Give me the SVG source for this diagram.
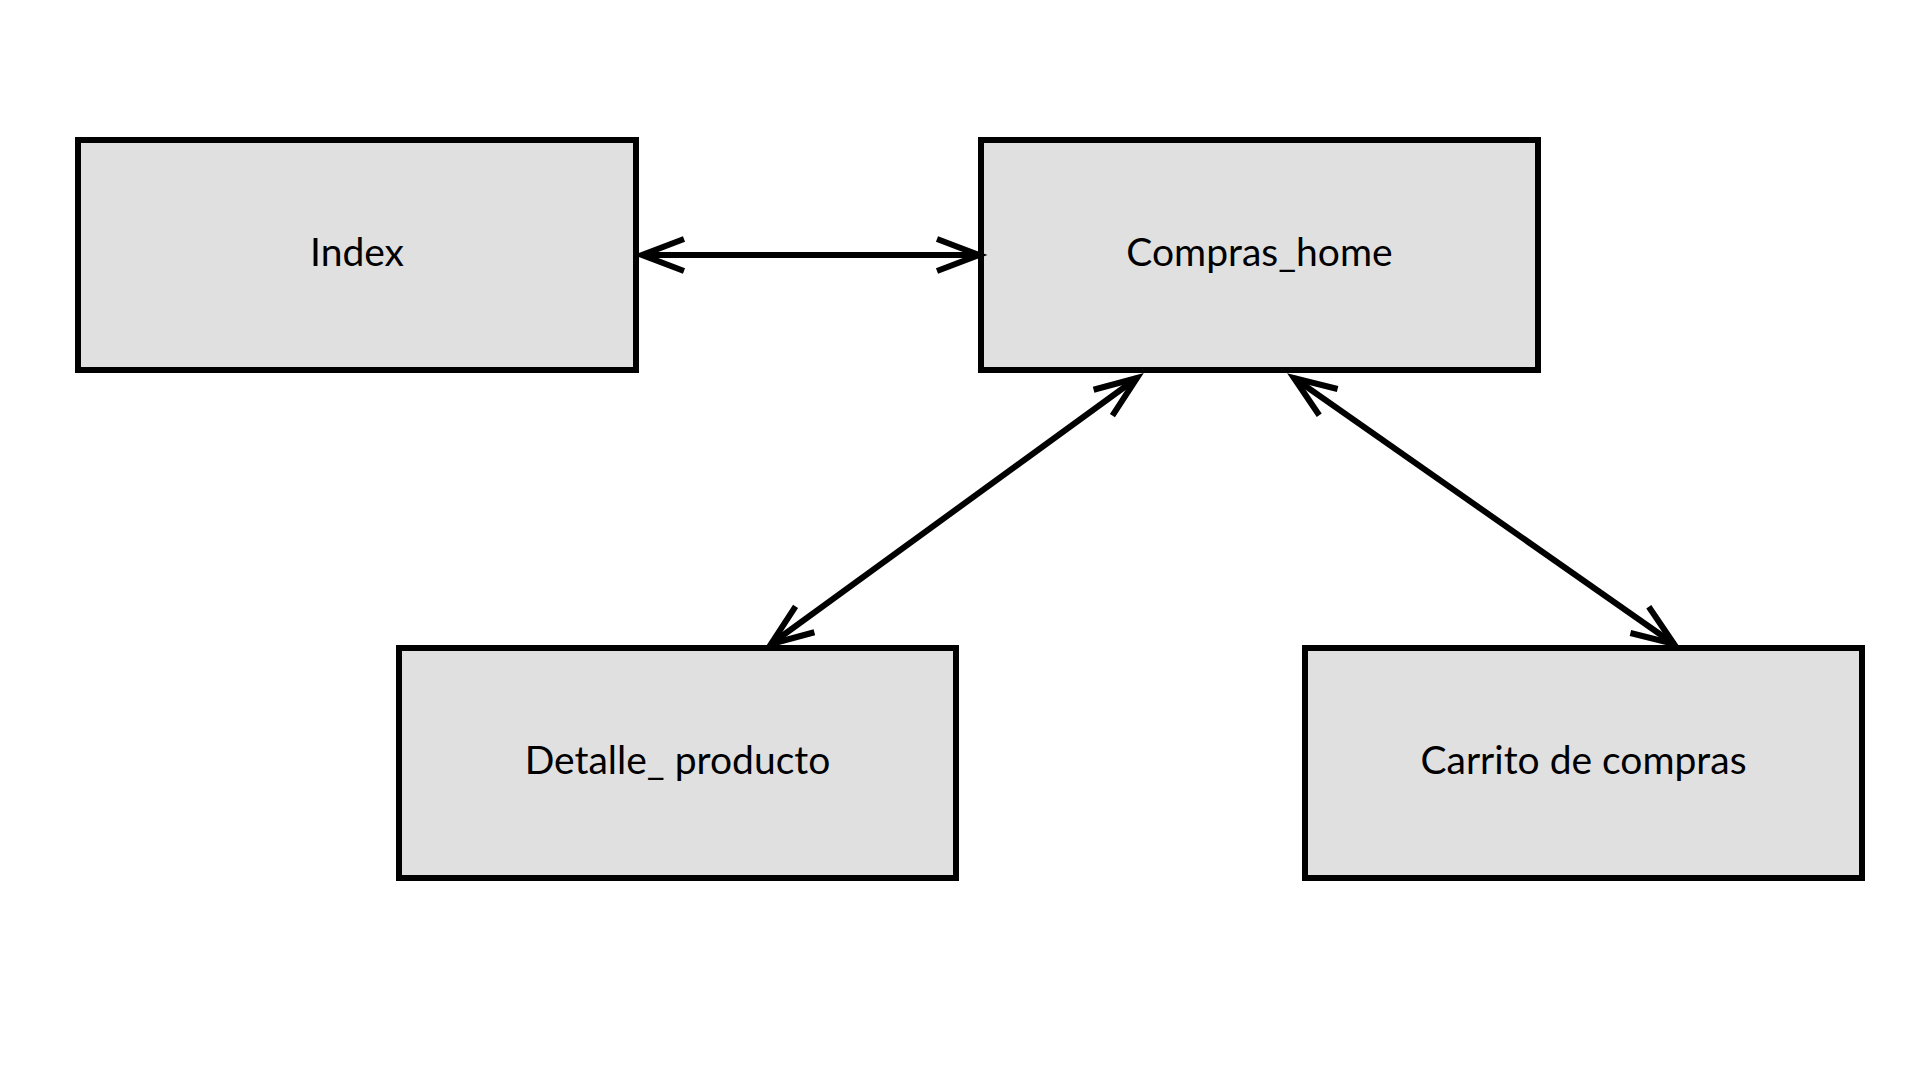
<svg xmlns="http://www.w3.org/2000/svg" width="1920" height="1080" viewBox="0 0 1920 1080">
<style>
.box{fill:#e0e0e0;stroke:#000;stroke-width:6}
.lbl{font-family:Lato,"Noto Sans",sans-serif;font-size:39px;fill:#000;text-anchor:middle}
.conn{stroke:#000;stroke-width:6;fill:none}
</style>
<defs>
<marker id="arr" markerUnits="userSpaceOnUse" markerWidth="60" markerHeight="60" viewBox="-50 -25 60 50" refX="0" refY="0" orient="auto-start-reverse" overflow="visible">
<path d="M -42 -16 L 0 0 L -42 16" fill="none" stroke="#000" stroke-width="6"/>
</marker>
</defs>
<rect width="1920" height="1080" fill="#fff"/>
<g id="index">
<rect class="box" x="78" y="140" width="558" height="230"/>
<text class="lbl" x="357" y="266">Index</text>
</g>
<g id="compras_home">
<rect class="box" x="981" y="140" width="557" height="230"/>
<text class="lbl" x="1259.5" y="266">Compras_home</text>
</g>
<g id="detalle_producto">
<rect class="box" x="399" y="648" width="557" height="230"/>
<text class="lbl" x="677.5" y="774">Detalle_ producto</text>
</g>
<g id="carrito">
<rect class="box" x="1305" y="648" width="557" height="230"/>
<text class="lbl" x="1583.5" y="774">Carrito de compras</text>
</g>
<g id="connectors">
<line class="conn" x1="642" y1="255" x2="979" y2="255" marker-start="url(#arr)" marker-end="url(#arr)"/>
<line class="conn" x1="1137" y1="378" x2="771" y2="644" marker-start="url(#arr)" marker-end="url(#arr)"/>
<line class="conn" x1="1294" y1="378" x2="1674" y2="644" marker-start="url(#arr)" marker-end="url(#arr)"/>
</g>
</svg>
